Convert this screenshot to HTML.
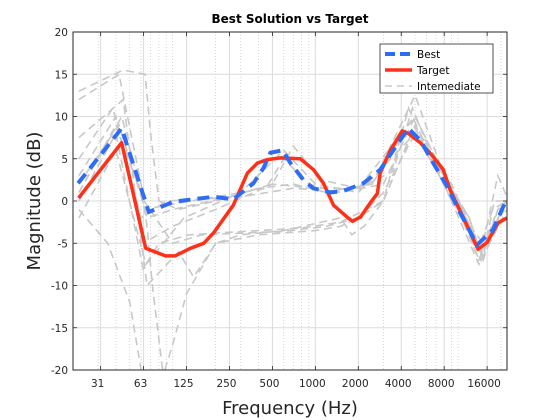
<!DOCTYPE html>
<html><head><meta charset="utf-8"><style>
html,body{margin:0;padding:0;background:#fff;}
svg{display:block;font-family:"DejaVu Sans","Liberation Sans",sans-serif;}
</style></head><body>
<svg id="chart" width="560" height="420" viewBox="0 0 560 420" xmlns="http://www.w3.org/2000/svg">
<defs><clipPath id="clip"><rect x="73" y="32" width="434" height="338"/></clipPath></defs>
<rect x="0" y="0" width="560" height="420" fill="#fff"/>
<rect x="73" y="32" width="434" height="338" fill="#fff"/>
<g id="grid"></g>
<g id="series" clip-path="url(#clip)"></g>
<rect x="73" y="32" width="434" height="338" fill="none" stroke="#262626" stroke-width="1"/>
<g id="ticks"></g>
<text x="290" y="23" text-anchor="middle" font-size="12" font-weight="bold" fill="#000">Best Solution vs Target</text>
<text x="290" y="414" text-anchor="middle" font-size="18" fill="#262626">Frequency (Hz)</text>
<text transform="translate(40,201) rotate(-90)" text-anchor="middle" font-size="18" fill="#262626">Magnitude (dB)</text>
<g>
<rect x="380" y="44" width="113" height="49" fill="#fff" stroke="#262626" stroke-width="0.8"/>
<g><line x1="385" y1="54" x2="412" y2="54" stroke="#2f6cf5" stroke-width="4" stroke-dasharray="10,5"/><text x="417" y="58" font-size="10.5" fill="#000">Best</text></g>
<g><line x1="385" y1="70" x2="412" y2="70" stroke="#ff3018" stroke-width="3.5"/><text x="417" y="74" font-size="10.5" fill="#000">Target</text></g>
<g><line x1="385" y1="86" x2="412" y2="86" stroke="#c8c8c8" stroke-width="1.5" stroke-dasharray="7,5"/><text x="417" y="90" font-size="10.5" fill="#000">Intemediate</text></g>
</g>
</svg>
<script>
const xTicks = [31.25, 62.5, 125, 250, 500, 1000, 2000, 4000, 8000, 16000];
const xTickLabels = ["31", "63", "125", "250", "500", "1000", "2000", "4000", "8000", "16000"];
const yTicks = [-20, -15, -10, -5, 0, 5, 10, 15, 20];
const targetFreq = [21.9,43.8,64.7,89,104,133,165,193,266,334,393,460,570,785,970,1140,1340,1670,1820,2070,2430,2720,2850,3350,4060,4480,5430,6590,7890,8820,10860,13800,16000,19100,22000];
const targetDb = [0.35,6.9,-5.6,-6.5,-6.5,-5.6,-5.0,-3.8,-0.5,3.3,4.5,4.9,5.1,5.0,3.7,2.1,-0.5,-1.9,-2.4,-1.9,-0.2,0.9,3.3,6.0,8.3,8.0,6.9,5.4,3.7,1.3,-1.9,-5.7,-4.9,-2.6,-2.0];
const bestFreq = [21.7,43.8,68,101,193,266,368,433,484,588,668,824,968,1274,1570,2168,2850,3520,4480,5430,6700,8400,10340,13600,17600,20700,22100];
const bestDb = [2.1,8.6,-1.3,-0.1,0.5,0.2,2.1,3.9,5.7,6.0,4.5,2.5,1.5,1.0,1.2,2.1,3.7,6.0,8.6,7.2,4.5,1.7,-1.4,-5.2,-3.4,-0.7,0.1];
const interFreq = [
 [22,45,64,70,80,110,200,400,700,1200,2500,5000,8000,12000,14000,18000,22000],
 [22,42,60,66,72,85],
 [22,40,62,100,200,500,1000,2000,5000,8000,14000,22000],
 [22,40,65,120,300,600,1000,2000,5000,8000,14000,22000],
 [22,35,50,60],
 [88,100,125,200,400,1000,1500,2000,3000,5000,8000,14500,22000],
 [22,45,66,110,140,200,300,600,1500,1800,2200,3000,5000,9000,15000,19000,22000],
 [22,40,63,100,160,600,1200,2000,3000,5000,10000,15000,18000,22000],
 [22,40,62,80,130,200,400,800,1500,3000,4500,7000,12000,15000,20000,22000],
 [22,38,60,90,300,700,1300,2500,4700,6000,9000,14000,17500,22000],
 [22,42,64,90,200,450,600,900,1500,3000,5000,7000,10000,14000,18000,22000],
 [22,44,66,100,250,500,700,1100,2000,3500,4800,6500,11000,14500,19000,22000]
];
const interDb = [
 [13,15.5,15,8,0,-1,0,1.5,2,1,2,12.5,3,-2,-6,-3,-0.5],
 [12,15,2,-3,-10,-20],
 [3,10,-5,-3,-1,2,1.5,1.5,10,3,-7,0],
 [-2,6,-7.5,-2,1,6,2,1,8,2,-7.5,-1],
 [-1,-5,-12,-20],
 [-20,-17,-11,-5,-4,-3.5,-3,-2,1,8,2,-6,0],
 [7.5,12,-10,-6,-9,-5,-4,-3.5,-2,-4,-3,0,9,0,-5,3,0.5],
 [1,9,0,-5,-4,-3.6,-3,-2,0,9,0,-6.5,0,0],
 [0,8,-8,-5,-4,-3.8,-3.5,-3.2,-2.5,0,11,4,-2,-7,-1,0],
 [5,11,-2,0,0.5,1.5,1.2,2,9.5,6,2,-5.5,-1,0],
 [2,9,-1,-0.5,0.5,1.5,5,2,1,2,10,5,0,-7,-2,0],
 [1,10,-2,-1,0.5,2,6.5,2.5,1.5,3.5,11,5.5,-1,-7,-1,0]
];
const svgNS = "http://www.w3.org/2000/svg";
const L = 73, R = 507, T = 32, B = 370;
const fMin = 20, fMax = 22050;
function xScale(f){ return L + (Math.log(f/fMin)/Math.log(fMax/fMin))*(R-L); }
function yScale(v){ return B - (v+20)/40*(B-T); }
function mk(tag, attrs, parent){ const e=document.createElementNS(svgNS,tag); for(const k in attrs) e.setAttribute(k,attrs[k]); parent.appendChild(e); return e; }
const grid = document.getElementById('grid');
const ticks = document.getElementById('ticks');
const series = document.getElementById('series');
for (let d=10; d<=10000; d*=10){
  for (let m=1; m<10; m++){
    const f=d*m; if (f<=fMin || f>=fMax) continue;
    const x=xScale(f);
    const ln=mk('line',{x1:x,y1:T,x2:x,y2:B,stroke:'#c4c4c4','stroke-width':0.7,'stroke-dasharray':'1,2'},grid);
    
    
  }
}
xTicks.forEach((f,i)=>{
  const x=xScale(f);
  const g=mk('line',{x1:x,y1:T,x2:x,y2:B,stroke:'#dcdcdc','stroke-width':1},grid);
  
  
  mk('line',{x1:x,y1:B,x2:x,y2:B-4,stroke:'#262626','stroke-width':0.8},ticks);
  mk('line',{x1:x,y1:T,x2:x,y2:T+4,stroke:'#262626','stroke-width':0.8},ticks);
  const t=mk('text',{x:x-3,y:B+17,'text-anchor':'middle','font-size':10.5,fill:'#262626'},ticks);
  t.textContent=xTickLabels[i];
  
  
});
yTicks.forEach(v=>{
  const y=yScale(v);
  const g=mk('line',{x1:L,y1:y,x2:R,y2:y,stroke:'#dcdcdc','stroke-width':1},grid);
  
  
  mk('line',{x1:L,y1:y,x2:L+4,y2:y,stroke:'#262626','stroke-width':0.8},ticks);
  mk('line',{x1:R,y1:y,x2:R-4,y2:y,stroke:'#262626','stroke-width':0.8},ticks);
  const t=mk('text',{x:L-5,y:y+4,'text-anchor':'end','font-size':10.5,fill:'#262626'},ticks);
  t.textContent=String(v);
  
  
});
function pts(fs, vs){ return fs.map((f,i)=>xScale(f).toFixed(1)+','+yScale(vs[i]).toFixed(1)).join(' '); }
interFreq.forEach((fs,i)=>{
  const p=mk('polyline',{points:pts(fs,interDb[i]),fill:'none',stroke:'#c8c8c8','stroke-width':1.6,'stroke-dasharray':'8,5'},series);
  
  
});
const tl=mk('polyline',{points:pts(targetFreq,targetDb),fill:'none',stroke:'#ff3018','stroke-width':3.5,'stroke-linejoin':'round'},series);


const bl=mk('polyline',{points:pts(bestFreq,bestDb),fill:'none',stroke:'#2f6cf5','stroke-width':4,'stroke-dasharray':'12,7'},series);


</script>
</body></html>
